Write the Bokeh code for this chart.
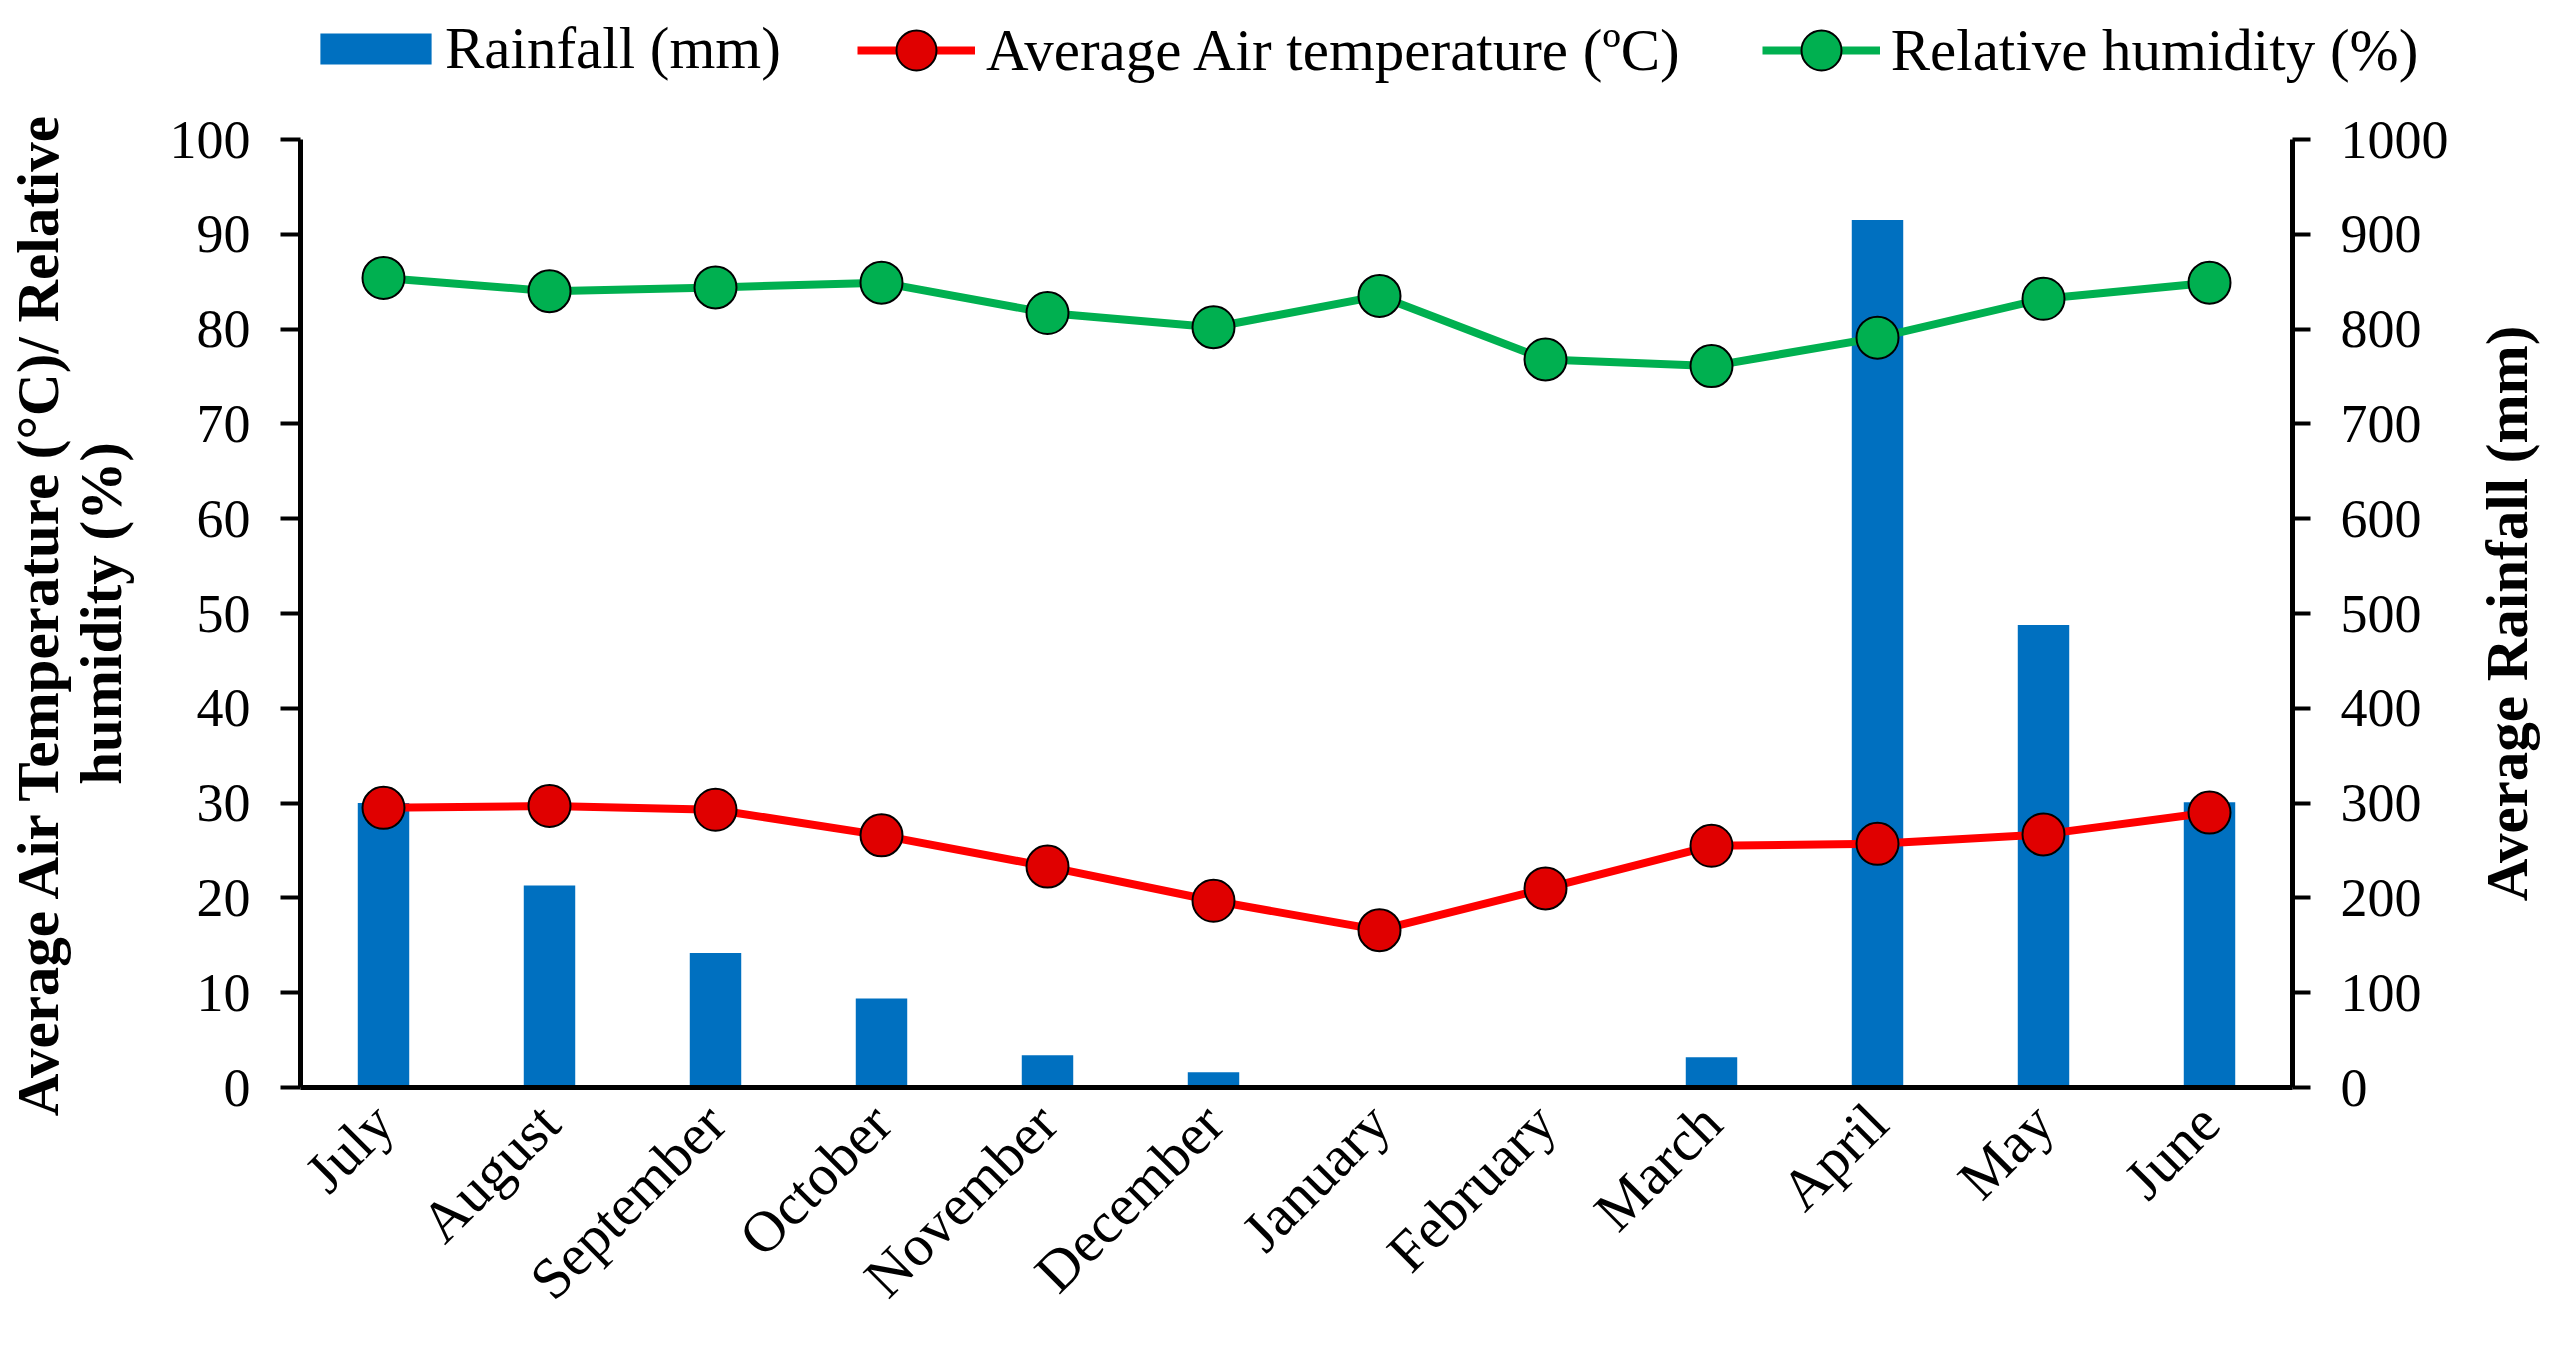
from bokeh.plotting import figure
from bokeh.models import (FactorRange, Range1d, LinearAxis, FixedTicker, Legend,
                          LegendItem, ColumnDataSource)
from bokeh.layouts import column, row
from bokeh.embed import file_html
from bokeh.resources import INLINE
import math

months = ["July", "August", "September", "October", "November", "December",
          "January", "February", "March", "April", "May", "June"]
rainfall = [300, 213, 142, 94, 34, 16, 0, 0, 32, 915, 488, 301]
temperature = [29.5, 29.7, 29.3, 26.6, 23.3, 19.7, 16.6, 21.0, 25.5, 25.7, 26.7, 29.0]
humidity = [85.4, 84.0, 84.4, 84.9, 81.7, 80.2, 83.5, 76.8, 76.1, 79.1, 83.2, 84.9]
left_ticks = [0, 10, 20, 30, 40, 50, 60, 70, 80, 90, 100]
right_ticks = [0, 100, 200, 300, 400, 500, 600, 700, 800, 900, 1000]

FONT = "Liberation Serif"
TOTAL_W, TOTAL_H = 2547, 1338
LEG_H = 100
MAIN_W = 2470
MAIN_H = TOTAL_H - LEG_H
SIDE_W = TOTAL_W - MAIN_W
FRAME_L, FRAME_R, FRAME_T, FRAME_B = 300, 2292, 139, 1087

BAR_C, TEMP_C, TEMP_M, HUM_C = "#0070C0", "#FF0000", "#E00000", "#00B050"

src = ColumnDataSource(dict(m=months, rain=rainfall, temp=temperature, hum=humidity))


def style(fig):
    fig.outline_line_color = None
    fig.xgrid.grid_line_color = None
    fig.ygrid.grid_line_color = None
    fig.background_fill_color = "white"
    fig.border_fill_color = "white"


# ---------------- main chart ----------------
p = figure(width=MAIN_W, height=MAIN_H,
           x_range=FactorRange(factors=months, range_padding=0),
           y_range=Range1d(0, 100), output_backend="svg", toolbar_location=None,
           min_border_left=FRAME_L, min_border_right=MAIN_W - FRAME_R,
           min_border_top=FRAME_T - LEG_H, min_border_bottom=TOTAL_H - FRAME_B)
p.extra_y_ranges = {"rain": Range1d(0, 1000)}
style(p)

p.vbar(x="m", top="rain", width=0.31, source=src, y_range_name="rain",
       fill_color=BAR_C, line_color=None)
p.line(x="m", y="temp", source=src, line_color=TEMP_C, line_width=8)
p.line(x="m", y="hum", source=src, line_color=HUM_C, line_width=8)
p.scatter(x="m", y="temp", source=src, size=42, fill_color=TEMP_M,
          line_color="black", line_width=2)
p.scatter(x="m", y="hum", source=src, size=42, fill_color=HUM_C,
          line_color="black", line_width=2)

ya = p.yaxis[0]
ya.ticker = FixedTicker(ticks=left_ticks)
ya.axis_label = "Average Air Temperature (°C)/ Relative\nhumidity (%)"
ya.axis_label_text_font = FONT
ya.axis_label_text_font_style = "bold"
ya.axis_label_text_font_size = "59px"
ya.axis_label_text_line_height = 0.94
ya.axis_label_text_color = "black"
ya.axis_label_standoff = 33
ya.major_label_text_font = FONT
ya.major_label_text_font_size = "54px"
ya.major_label_text_color = "black"
ya.major_label_standoff = 30
ya.axis_line_width = 5
ya.axis_line_color = "black"
ya.major_tick_line_width = 4
ya.major_tick_in = 0
ya.major_tick_out = 20
ya.minor_tick_line_color = None

ra = LinearAxis(y_range_name="rain", ticker=FixedTicker(ticks=right_ticks))
ra.major_label_text_font = FONT
ra.major_label_text_font_size = "54px"
ra.major_label_text_color = "black"
ra.major_label_standoff = 30
ra.axis_line_width = 5
ra.axis_line_color = "black"
ra.major_tick_line_width = 4
ra.major_tick_in = 0
ra.major_tick_out = 18
ra.minor_tick_line_color = None
p.add_layout(ra, "right")

xa = p.xaxis[0]
xa.major_label_orientation = math.pi / 4
xa.major_label_text_font = FONT
xa.major_label_text_font_size = "58px"
xa.major_label_text_color = "black"
xa.major_label_standoff = 20
xa.axis_line_width = 5
xa.axis_line_color = "black"
xa.major_tick_line_color = None
xa.minor_tick_line_color = None

# ---------------- right axis title (reads bottom-to-top) ----------------
s = figure(width=SIDE_W, height=MAIN_H, x_range=Range1d(0, 1), y_range=Range1d(0, 1),
           output_backend="svg", toolbar_location=None,
           min_border_left=0, min_border_right=0,
           min_border_top=FRAME_T - LEG_H, min_border_bottom=TOTAL_H - FRAME_B)
style(s)
s.xaxis.visible = False
sy = s.yaxis[0]
sy.ticker = FixedTicker(ticks=[])
sy.axis_line_color = None
sy.major_tick_line_color = None
sy.minor_tick_line_color = None
sy.major_label_text_font_size = "0px"
sy.axis_label = "Average Rainfall (mm)"
sy.axis_label_text_font = FONT
sy.axis_label_text_font_style = "bold"
sy.axis_label_text_font_size = "59px"
sy.axis_label_text_color = "black"
sy.axis_label_standoff = -12

# ---------------- legend strip ----------------
lg = figure(width=TOTAL_W, height=LEG_H,
            x_range=FactorRange(factors=months, range_padding=0),
            y_range=Range1d(2000, 3000), output_backend="svg", toolbar_location=None,
            min_border=0, min_border_left=0, min_border_right=0,
            min_border_top=0, min_border_bottom=0)
style(lg)
lg.xaxis.visible = False
lg.yaxis.visible = False
lb = lg.vbar(x="m", top="rain", width=0.31, source=src,
             fill_color=BAR_C, line_color=None)
ll_t = lg.line(x="m", y="temp", source=src, line_color=TEMP_C, line_width=8)
ls_t = lg.scatter(x="m", y="temp", source=src, size=42, fill_color=TEMP_M,
                  line_color="black", line_width=2)
ll_h = lg.line(x="m", y="hum", source=src, line_color=HUM_C, line_width=8)
ls_h = lg.scatter(x="m", y="hum", source=src, size=42, fill_color=HUM_C,
                  line_color="black", line_width=2)


def make_legend(items, loc, gw, gh, standoff, spacing):
    L = Legend(items=items, orientation="horizontal", location=loc)
    L.label_text_font = FONT
    L.label_text_font_size = "59px"
    L.label_text_color = "black"
    L.glyph_width = gw
    L.glyph_height = gh
    L.label_standoff = standoff
    L.spacing = spacing
    L.padding = 0
    L.margin = 0
    L.border_line_color = None
    L.background_fill_alpha = 0
    return L


leg_a = make_legend([LegendItem(label="Rainfall (mm)", renderers=[lb])],
                    (306, 17), 139, 39, 0, 0)
leg_b = make_legend([
    LegendItem(label="Average Air temperature (ºC)", renderers=[ll_t, ls_t]),
    LegendItem(label="Relative humidity (%)", renderers=[ll_h, ls_h]),
], (857, 0), 118, 100, 11, 82)
lg.add_layout(leg_a, "center")
lg.add_layout(leg_b, "center")

layout = column(lg, row(p, s, spacing=0), spacing=0)
open("out.html", "w").write(file_html(layout, INLINE))
